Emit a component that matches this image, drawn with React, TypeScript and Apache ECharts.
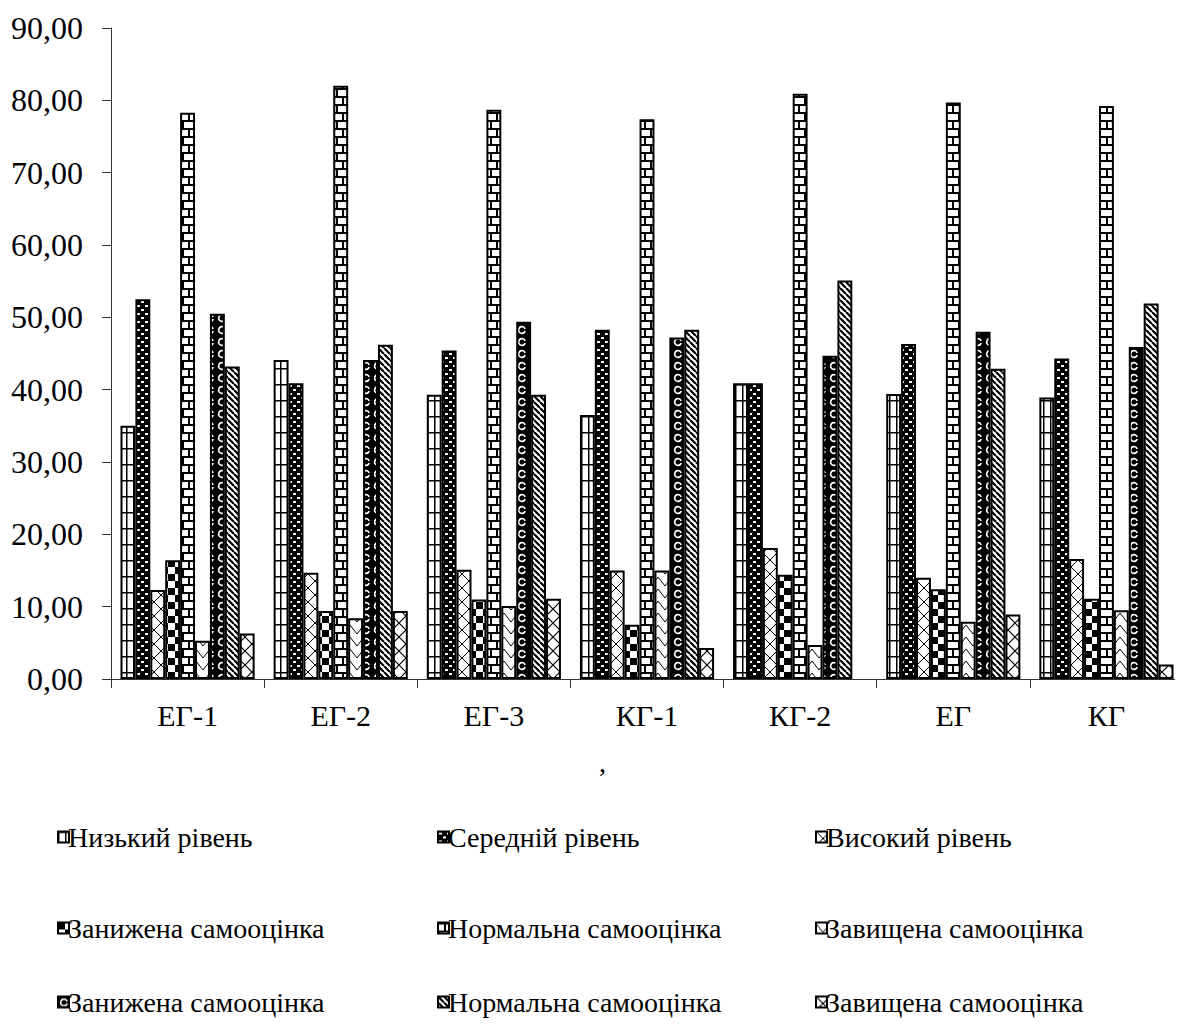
import React, { useEffect, useRef } from "react";
import * as echarts from "echarts";

const categories = ["ЕГ-1", "ЕГ-2", "ЕГ-3", "КГ-1", "КГ-2", "ЕГ", "КГ"];
const seriesLabels = [
  "Низький рівень",
  "Середній рівень",
  "Високий рівень",
  "Занижена самооцінка",
  "Нормальна самооцінка",
  "Завищена самооцінка",
  "Занижена самооцінка",
  "Нормальна самооцінка",
  "Завищена самооцінка",
];
const low = [35.0, 44.1, 39.3, 36.5, 40.9, 39.4, 38.9];
const mid = [52.5, 40.9, 45.4, 48.3, 40.9, 46.3, 44.3];
const high = [12.3, 14.7, 15.1, 15.0, 18.1, 14.0, 16.6];
const under1 = [16.4, 9.4, 11.0, 7.5, 14.4, 12.4, 11.1];
const normal1 = [78.3, 82.0, 78.7, 77.4, 80.9, 79.7, 79.2];
const over1 = [5.3, 8.4, 10.1, 15.0, 4.7, 7.9, 9.5];
const under2 = [50.5, 44.1, 49.4, 47.2, 44.7, 48.0, 45.9];
const normal2 = [43.2, 46.2, 39.3, 48.3, 55.1, 42.9, 51.9];
const over2 = [6.3, 9.4, 11.1, 4.3, null, 8.9, 2.0];
const seriesValues = [low, mid, high, under1, normal1, over1, under2, normal2, over2];

const FONT = "Liberation Serif";

function tile(w: number, h: number, draw: (ctx: CanvasRenderingContext2D) => void) {
  const c = document.createElement("canvas");
  c.width = w;
  c.height = h;
  const ctx = c.getContext("2d") as CanvasRenderingContext2D;
  ctx.fillStyle = "#fff";
  ctx.fillRect(0, 0, w, h);
  ctx.fillStyle = "#000";
  ctx.strokeStyle = "#000";
  draw(ctx);
  return { image: c.toDataURL(), repeat: "repeat", imageWidth: w, imageHeight: h } as any;
}

function makePatterns() {
  const p: any[] = [];
  p.push(
    tile(7, 16, (ctx) => {
      ctx.fillRect(0, 0, 1.5, 16);
      ctx.fillRect(0, 0, 7, 1.5);
    })
  );
  p.push(
    tile(8, 8, (ctx) => {
      ctx.fillRect(0, 0, 8, 8);
      ctx.fillStyle = "#fff";
      ctx.fillRect(1, 1, 3, 2);
      ctx.fillRect(5, 5, 3, 2);
    })
  );
  p.push(
    tile(14, 14, (ctx) => {
      ctx.lineWidth = 1;
      ctx.beginPath();
      ctx.moveTo(0, 0);
      ctx.lineTo(14, 14);
      ctx.moveTo(14, 0);
      ctx.lineTo(0, 14);
      ctx.stroke();
    })
  );
  p.push(
    tile(14, 14, (ctx) => {
      ctx.fillRect(0, 0, 7, 7);
      ctx.fillRect(7, 7, 7, 7);
    })
  );
  p.push(
    tile(14, 16, (ctx) => {
      ctx.fillRect(0, 0, 14, 2);
      ctx.fillRect(0, 8, 14, 2);
      ctx.fillRect(6, 0, 2, 8);
      ctx.fillRect(0, 8, 2, 8);
    })
  );
  p.push(
    tile(14, 12, (ctx) => {
      ctx.lineWidth = 1;
      ctx.beginPath();
      ctx.moveTo(0, 1);
      ctx.lineTo(7, 10);
      ctx.lineTo(14, 1);
      ctx.stroke();
    })
  );
  p.push(
    tile(12, 12, (ctx) => {
      ctx.fillRect(0, 0, 12, 12);
      ctx.strokeStyle = "#fff";
      ctx.lineWidth = 1.6;
      ctx.beginPath();
      ctx.arc(6, 6, 3.3, 0.3, Math.PI * 1.9);
      ctx.stroke();
    })
  );
  p.push(
    tile(6, 6, (ctx) => {
      ctx.lineWidth = 2.2;
      ctx.beginPath();
      for (const k of [-6, 0, 6]) {
        ctx.moveTo(k, 0);
        ctx.lineTo(k + 6, 6);
      }
      ctx.stroke();
    })
  );
  p.push(
    tile(14, 14, (ctx) => {
      ctx.lineWidth = 1.2;
      ctx.beginPath();
      ctx.moveTo(0, 0);
      ctx.lineTo(14, 14);
      ctx.moveTo(14, 0);
      ctx.lineTo(0, 14);
      ctx.stroke();
    })
  );
  return p;
}

export default function App() {
  const ref = useRef<HTMLDivElement>(null);
  useEffect(() => {
    if (!ref.current) return;
    const chart = echarts.init(ref.current, null, { renderer: "svg" });
    const patterns = makePatterns();
    const keys = seriesLabels.map((l, i) => "s" + i);
    const colX = [57, 437, 815];
    const rowY = [823, 914, 988];
    chart.setOption({
      animation: false,
      backgroundColor: "#fff",
      textStyle: { fontFamily: FONT },
      grid: { left: 111, right: 0, top: 28, bottom: 353, containLabel: false },
      xAxis: {
        type: "category",
        data: categories,
        axisLine: { lineStyle: { color: "#333", width: 1 } },
        axisTick: { show: true, length: 9, lineStyle: { color: "#333" } },
        axisLabel: { fontFamily: FONT, fontSize: 30, color: "#000", margin: 21 },
      },
      yAxis: {
        type: "value",
        min: 0,
        max: 90,
        interval: 10,
        splitLine: { show: false },
        axisLine: { show: true, lineStyle: { color: "#333", width: 1 } },
        axisTick: { show: true, length: 9, lineStyle: { color: "#333" } },
        axisLabel: {
          fontFamily: FONT,
          fontSize: 32,
          color: "#000",
          margin: 28,
          formatter: (v: number) => v.toFixed(2).replace(".", ","),
        },
      },
      legend: keys.map((k, i) => ({
        data: [k],
        left: colX[i % 3],
        top: rowY[Math.floor(i / 3)],
        padding: 0,
        itemWidth: 11,
        itemHeight: 11,
        itemGap: 0,
        icon: "rect",
        selectedMode: false,
        formatter: () => seriesLabels[i],
        textStyle: { fontFamily: FONT, fontSize: 28, color: "#000", padding: [0, 0, 0, -6] },
      })),
      graphic: [
        {
          type: "text",
          left: 599,
          top: 748,
          style: { text: ",", fontFamily: FONT, fontSize: 28, fill: "#000" },
        },
      ],
      series: keys.map((k, i) => ({
        name: k,
        type: "bar",
        data: seriesValues[i],
        barGap: "0%",
        barCategoryGap: "12.4%",
        itemStyle: { color: patterns[i], borderColor: "#000", borderWidth: 2 },
        emphasis: { disabled: true },
      })),
    });
    return () => chart.dispose();
  }, []);
  return <div ref={ref} style={{ width: 1183, height: 1032, marginLeft: -8, marginTop: -8 }} />;
}
